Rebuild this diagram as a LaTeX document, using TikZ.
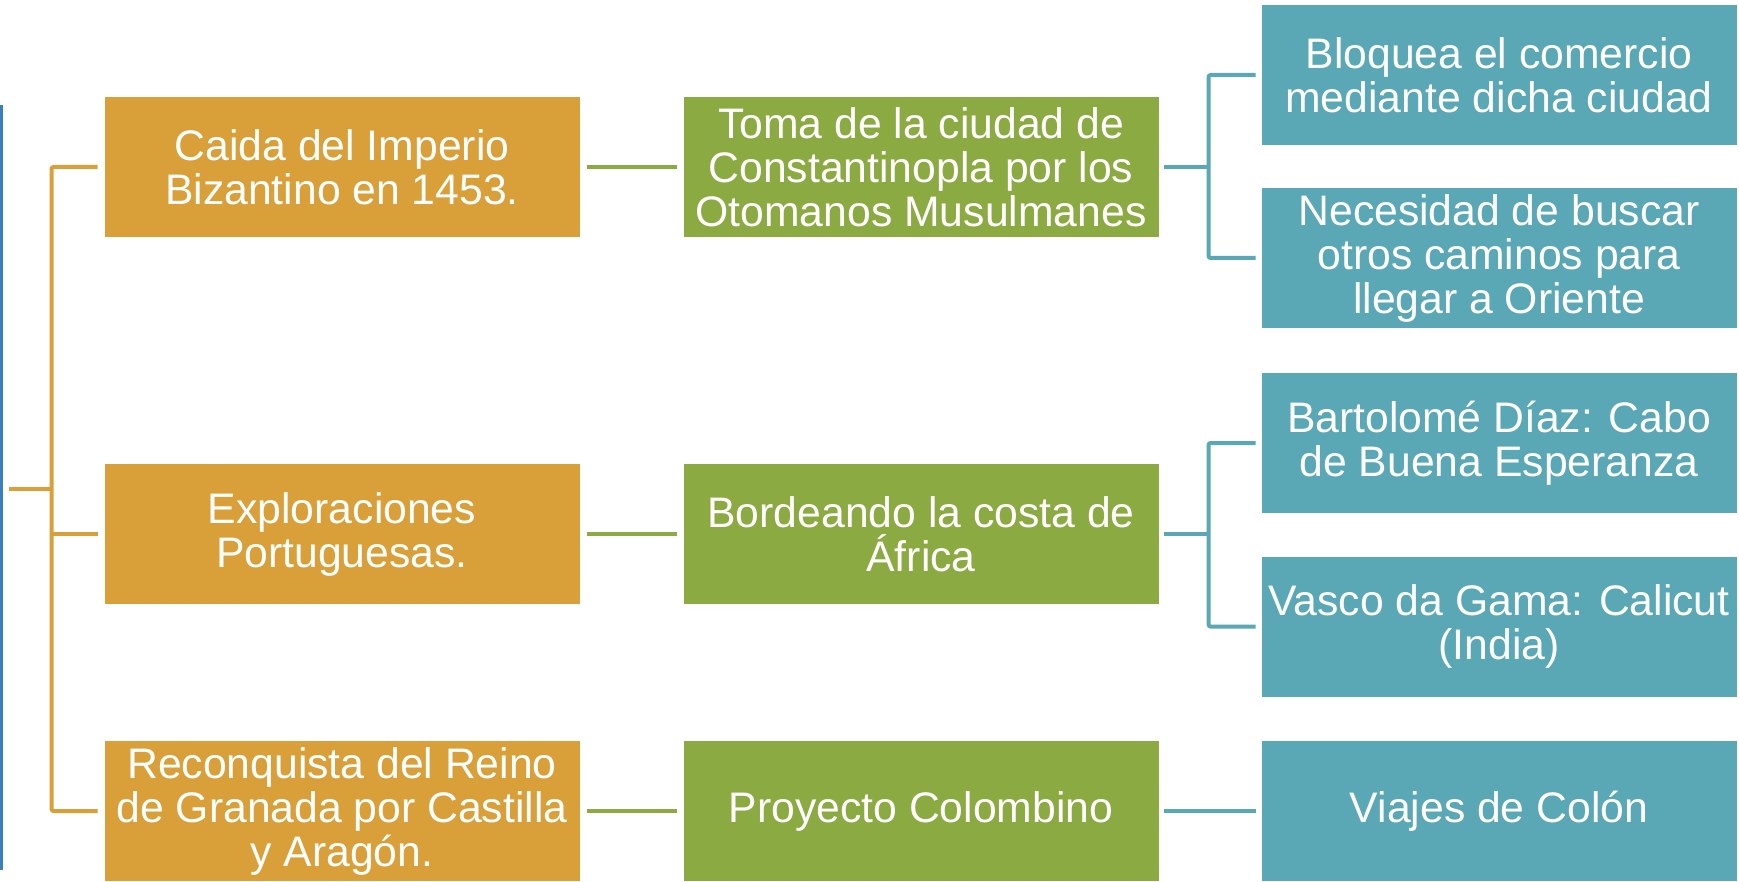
\documentclass[tikz,border=0pt]{standalone}
\usepackage{fontspec}
\setmainfont{Liberation Sans}
\definecolor{orb}{RGB}{217,160,58}
\definecolor{grb}{RGB}{139,170,66}
\definecolor{teb}{RGB}{90,167,181}
\definecolor{bll}{RGB}{58,127,193}
\begin{document}
\begin{tikzpicture}[x=1pt,y=-1pt,
  box/.style={rectangle,minimum width=476pt,minimum height=141pt,inner sep=0pt,
    draw=white,line width=0.8pt,text=white,align=center,
    font=\fontsize{42.7}{44}\selectfont},
  obox/.style={box,fill=orb},
  gbox/.style={box,fill=grb},
  tbox/.style={box,fill=teb},
  orl/.style={draw=orb,line width=4pt,rounded corners=2pt},
  grl/.style={draw=grb,line width=4pt},
  tel/.style={draw=teb,line width=4pt,rounded corners=2pt}]
\useasboundingbox[fill=white] (0,0) rectangle (1739,882);
% blue line
\draw[bll,line width=3pt] (1.5,105) -- (1.5,870);
% boxes
\node[obox] (o1) at (342,167) {Caida del Imperio\\Bizantino en 1453.};
\node[obox] (o2) at (342,534) {Exploraciones\\Portuguesas.};
\node[obox] (o3) at (342,811) {Reconquista del Reino\\de Granada por Castilla\\y Aragón.};
\node[gbox] (g1) at (921,167) {Toma de la ciudad de\\Constantinopla por los\\Otomanos Musulmanes};
\node[gbox] (g2) at (921,534) {Bordeando la costa de\\África};
\node[gbox] (g3) at (921,811) {Proyecto Colombino};
\node[tbox] (t1) at (1499,75) {Bloquea el comercio\\mediante dicha ciudad};
\node[tbox] (t2) at (1499,258) {Necesidad de buscar\\otros caminos para\\llegar a Oriente};
\node[tbox] (t3) at (1499,443) {Bartolomé Díaz: Cabo\\de Buena Esperanza};
\node[tbox] (t4) at (1499,626.5) {Vasco da Gama: Calicut\\(India)};
\node[tbox] (t5) at (1499,811) {Viajes de Colón};
% orange bracket
\coordinate (root) at (9,489);
\draw[orl] (root) -- (52,489);
\draw[orl] ([xshift=-6pt]o1.west) -- ([xshift=-52pt]o1.west) -- ([xshift=-52pt]o3.west) -- ([xshift=-6pt]o3.west);
\draw[orl] ([xshift=-52pt]o2.west) -- ([xshift=-6pt]o2.west);
% green lines
\draw[grl] ([xshift=7pt]o1.east) -- ([xshift=-6pt]g1.west);
\draw[grl] ([xshift=7pt]o2.east) -- ([xshift=-6pt]g2.west);
\draw[grl] ([xshift=7pt]o3.east) -- ([xshift=-6pt]g3.west);
% teal brackets
\draw[tel] ([xshift=5pt]g1.east) -- ([xshift=50pt]g1.east);
\draw[tel] ([xshift=-5pt]t1.west) -- ([xshift=-52pt]t1.west) -- ([xshift=-52pt]t2.west) -- ([xshift=-5pt]t2.west);
\draw[tel] ([xshift=5pt]g2.east) -- ([xshift=50pt]g2.east);
\draw[tel] ([xshift=-5pt]t3.west) -- ([xshift=-52pt]t3.west) -- ([xshift=-52pt]t4.west) -- ([xshift=-5pt]t4.west);
\draw[tel] ([xshift=5pt]g3.east) -- ([xshift=-5pt]t5.west);
\end{tikzpicture}
\end{document}
